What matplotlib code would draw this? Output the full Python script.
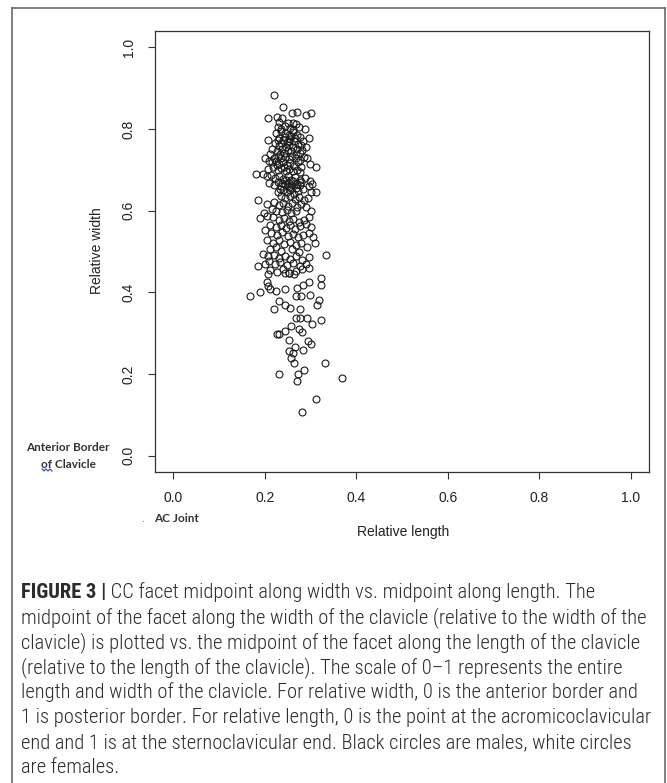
import matplotlib
matplotlib.use("Agg")
import matplotlib.pyplot as plt
from matplotlib import font_manager
from matplotlib.font_manager import FontProperties
from matplotlib.lines import Line2D

# relative length (x) / relative width (y) of the CC facet midpoint
rel_length = [
    0.220, 0.240, 0.260, 0.271, 0.290, 0.302, 0.206, 0.226, 0.238, 0.232,
    0.250, 0.262, 0.268, 0.289, 0.244, 0.255, 0.228, 0.274, 0.236, 0.262,
    0.206, 0.296, 0.225, 0.235, 0.245, 0.252, 0.262, 0.270, 0.278, 0.284,
    0.232, 0.240, 0.248, 0.256, 0.264, 0.272, 0.280, 0.222, 0.230, 0.238,
    0.246, 0.254, 0.262, 0.270, 0.215, 0.226, 0.242, 0.258, 0.276, 0.290,
    0.236, 0.244, 0.252, 0.258, 0.266, 0.228, 0.250, 0.234, 0.268, 0.282,
    0.201, 0.212, 0.220, 0.228, 0.236, 0.244, 0.252, 0.260, 0.268, 0.285,
    0.292, 0.216, 0.224, 0.232, 0.240, 0.248, 0.256, 0.264, 0.272, 0.280,
    0.313, 0.180, 0.208, 0.218, 0.228, 0.236, 0.246, 0.254, 0.262, 0.270,
    0.278, 0.210, 0.298, 0.226, 0.276, 0.242,
    0.196, 0.205, 0.214, 0.222, 0.232, 0.240, 0.250, 0.258, 0.266, 0.276,
    0.288, 0.298, 0.210, 0.220, 0.228, 0.236, 0.244, 0.252, 0.260, 0.268,
    0.276, 0.284, 0.296, 0.304, 0.240, 0.248, 0.256, 0.264, 0.272, 0.228,
    0.313, 0.300, 0.246, 0.254, 0.262, 0.238, 0.270, 0.280, 0.258, 0.234,
    0.235, 0.245, 0.255, 0.265, 0.275, 0.285, 0.295, 0.186, 0.205, 0.220,
    0.230, 0.240, 0.250, 0.260, 0.270, 0.280, 0.290, 0.199, 0.190, 0.215,
    0.225, 0.238, 0.248, 0.258, 0.268, 0.300,
    0.205, 0.218, 0.230, 0.242, 0.252, 0.262, 0.274, 0.286, 0.296, 0.212,
    0.224, 0.236, 0.246, 0.256, 0.266, 0.278, 0.290, 0.302, 0.200,
    0.214, 0.226, 0.238, 0.250, 0.262, 0.272, 0.284, 0.296, 0.306, 0.205,
    0.218, 0.230, 0.242, 0.256, 0.268, 0.280, 0.292, 0.310, 0.212, 0.224,
    0.236, 0.260, 0.274, 0.333,
    0.196, 0.206, 0.220, 0.232, 0.244, 0.256, 0.268, 0.282, 0.296, 0.186,
    0.200, 0.210, 0.222, 0.234, 0.248, 0.262, 0.276, 0.290, 0.212, 0.226,
    0.240, 0.254, 0.268, 0.282, 0.296,
    0.205, 0.206, 0.212, 0.225, 0.244, 0.271, 0.284, 0.296, 0.322, 0.323,
    0.207, 0.245, 0.254, 0.264, 0.168, 0.189, 0.269, 0.280, 0.298, 0.220,
    0.231, 0.245, 0.255, 0.278, 0.314, 0.319, 0.257, 0.268, 0.278, 0.292,
    0.304, 0.324, 0.227, 0.244, 0.275, 0.282, 0.252, 0.294, 0.300, 0.254,
    0.262, 0.265, 0.284, 0.263, 0.331, 0.232, 0.271, 0.272, 0.286, 0.368,
    0.312, 0.282, 0.258, 0.230,
]
rel_width = [
    0.884, 0.853, 0.840, 0.842, 0.835, 0.840, 0.828, 0.830, 0.828, 0.818,
    0.815, 0.815, 0.812, 0.800, 0.808, 0.802, 0.805, 0.805, 0.800, 0.798,
    0.774, 0.777, 0.790, 0.795, 0.790, 0.785, 0.792, 0.786, 0.780, 0.770,
    0.778, 0.772, 0.768, 0.775, 0.770, 0.764, 0.760, 0.765, 0.758, 0.752,
    0.756, 0.760, 0.755, 0.750, 0.752, 0.745, 0.742, 0.745, 0.742, 0.755,
    0.765, 0.780, 0.770, 0.784, 0.778, 0.772, 0.748, 0.740, 0.740, 0.748,
    0.730, 0.738, 0.730, 0.735, 0.728, 0.732, 0.726, 0.734, 0.728, 0.732,
    0.728, 0.718, 0.722, 0.714, 0.720, 0.712, 0.716, 0.710, 0.718, 0.706,
    0.708, 0.690, 0.702, 0.706, 0.700, 0.704, 0.698, 0.702, 0.696, 0.700,
    0.694, 0.722, 0.715, 0.712, 0.724, 0.708,
    0.690, 0.684, 0.688, 0.680, 0.686, 0.678, 0.684, 0.676, 0.682, 0.676,
    0.680, 0.672, 0.668, 0.662, 0.670, 0.660, 0.666, 0.658, 0.664, 0.656,
    0.662, 0.654, 0.660, 0.666, 0.650, 0.645, 0.650, 0.642, 0.648, 0.646,
    0.645, 0.645, 0.674, 0.668, 0.672, 0.668, 0.666, 0.670, 0.656, 0.654,
    0.636, 0.630, 0.636, 0.628, 0.634, 0.626, 0.632, 0.627, 0.617, 0.622,
    0.615, 0.620, 0.612, 0.618, 0.610, 0.616, 0.608, 0.595, 0.582, 0.604,
    0.600, 0.596, 0.602, 0.594, 0.600, 0.598,
    0.588, 0.584, 0.578, 0.582, 0.574, 0.580, 0.572, 0.578, 0.585, 0.565,
    0.560, 0.566, 0.558, 0.564, 0.556, 0.562, 0.568, 0.560, 0.552,
    0.545, 0.540, 0.548, 0.538, 0.544, 0.535, 0.540, 0.546, 0.535, 0.528,
    0.522, 0.528, 0.518, 0.524, 0.515, 0.520, 0.512, 0.520, 0.505, 0.510,
    0.502, 0.505, 0.500, 0.492,
    0.495, 0.488, 0.492, 0.485, 0.490, 0.482, 0.488, 0.480, 0.486, 0.464,
    0.470, 0.476, 0.470, 0.474, 0.466, 0.472, 0.464, 0.470, 0.455, 0.450,
    0.456, 0.448, 0.452, 0.458, 0.460,
    0.426, 0.416, 0.409, 0.403, 0.407, 0.411, 0.419, 0.426, 0.436, 0.418,
    0.446, 0.447, 0.447, 0.444, 0.392, 0.400, 0.390, 0.390, 0.393, 0.360,
    0.378, 0.369, 0.361, 0.360, 0.370, 0.381, 0.317, 0.337, 0.337, 0.338,
    0.322, 0.332, 0.298, 0.305, 0.309, 0.302, 0.283, 0.281, 0.273, 0.256,
    0.251, 0.266, 0.260, 0.227, 0.228, 0.201, 0.182, 0.199, 0.209, 0.191,
    0.140, 0.107, 0.240, 0.298,
]
assert len(rel_length) == len(rel_width)

tick_vals = [0.0, 0.2, 0.4, 0.6, 0.8, 1.0]
tick_labels = ["0.0", "0.2", "0.4", "0.6", "0.8", "1.0"]

caption_head = "FIGURE 3 |"
caption_lines = [
    " CC facet midpoint along width vs. midpoint along length. The",
    "midpoint of the facet along the width of the clavicle (relative to the width of the",
    "clavicle) is plotted vs. the midpoint of the facet along the length of the clavicle",
    "(relative to the length of the clavicle). The scale of 0\u20131 represents the entire",
    "length and width of the clavicle. For relative width, 0 is the anterior border and",
    "1 is posterior border. For relative length, 0 is the point at the acromicoclavicular",
    "end and 1 is at the sternoclavicular end. Black circles are males, white circles",
    "are females.",
]

W, H = 667, 783
fig = plt.figure(figsize=(W / 100, H / 100), dpi=100)


def fx(px):
    return px / W


def fy(py):
    return 1 - py / H


def weight_num(w):
    if isinstance(w, int):
        return w
    return font_manager.weight_dict.get(w, 400)


def narrow_font(want_weight):
    # look for an installed condensed / narrow face, closest to the wanted weight
    order = ["Liberation Sans Narrow", "Roboto Condensed", "Open Sans", "Noto Sans", "DejaVu Sans"]
    for fam in order:
        cands = []
        for f in font_manager.fontManager.ttflist:
            if f.style != "normal":
                continue
            tag = (f.name + " " + f.fname).lower()
            narrow = ("condensed" in str(f.stretch)) or ("narrow" in tag) or ("condensed" in tag)
            if f.name.startswith(fam) and narrow:
                cands.append(f)
        if cands:
            best = min(cands, key=lambda f: abs(weight_num(f.weight) - want_weight))
            return FontProperties(fname=best.fname)
    return FontProperties(family="Roboto", weight=want_weight)


cap_regular = narrow_font(330)
cap_bold = narrow_font(700)
axis_font = "Liberation Sans"
note_font = "Lato"

# outer frame (open at the bottom)
frame_col = "#6a6a6a"
fig.add_artist(Line2D([fx(12), fx(12)], [fy(8), 0], transform=fig.transFigure, color=frame_col, lw=1.2))
fig.add_artist(Line2D([fx(12), fx(665)], [fy(8), fy(8)], transform=fig.transFigure, color=frame_col, lw=1.2))
fig.add_artist(Line2D([fx(665), fx(665)], [fy(8), 0], transform=fig.transFigure, color=frame_col, lw=1.2))

# scatter
ax = fig.add_axes([fx(155), fy(472), (649 - 155) / W, (472 - 31) / H])
ax.plot(rel_length, rel_width, "o", ls="none", mfc="none", mec="#1a1a1a", ms=5, mew=0.8)
ax.set_xlim(-0.04, 1.04)
ax.set_ylim(-0.04, 1.04)
ax.set_xticks(tick_vals)
ax.set_xticklabels(tick_labels)
ax.set_yticks(tick_vals)
ax.set_yticklabels(tick_labels, rotation=90, va="center")
ax.tick_params(length=5, width=0.8, color="#333333", pad=9, labelsize=10, labelcolor="#222222")
for lab in ax.get_xticklabels() + ax.get_yticklabels():
    lab.set_fontfamily(axis_font)
for sp in ax.spines.values():
    sp.set_color("#333333")
    sp.set_linewidth(0.9)

fig.text(fx(403), fy(532), "Relative length", ha="center", va="center",
         family=axis_font, size=10, color="#222222")
fig.text(fx(97), fy(251), "Relative width", ha="center", va="center", rotation=90,
         family=axis_font, size=10, color="#222222")

# hand-written notes
note_col = "#333333"
fig.text(fx(68), fy(447), "Anterior Border", ha="center", va="center",
         family=note_font, weight="bold", size=8.5, color=note_col)
fig.text(fx(68), fy(464), "of Clavicle", ha="center", va="center",
         family=note_font, weight="bold", size=8.5, color=note_col)
fig.add_artist(Line2D([fx(p) for p in (42, 44, 46, 48, 50, 52)],
                      [fy(p) for p in (469, 471, 469, 471, 469, 471)],
                      transform=fig.transFigure, color="#3a4fd0", lw=0.9))
fig.text(fx(176), fy(518), "AC Joint", ha="center", va="center",
         family=note_font, weight="bold", size=8.5, color=note_col)
fig.text(fx(143), fy(519), ".", ha="center", va="center",
         family=note_font, size=8, color="#888888")

# caption, size fitted so the widest line spans the box
cap_col = "#2b2b2b"
renderer = fig.canvas.get_renderer()
probe = fig.text(0, 0, caption_lines[5], fontproperties=cap_regular, size=12)
wpx = probe.get_window_extent(renderer).width
probe.remove()
cap_size = 12 * 627 / wpx

x0, y0, step = 21, 592, 25.1
head = fig.text(fx(x0), fy(y0), caption_head, ha="left", va="center",
                fontproperties=cap_bold, size=cap_size, color=cap_col)
hw = head.get_window_extent(renderer).width
for i, line in enumerate(caption_lines):
    xx = x0 + hw if i == 0 else x0
    fig.text(fx(xx), fy(y0 + i * step), line, ha="left", va="center",
             fontproperties=cap_regular, size=cap_size, color=cap_col)

fig.savefig("out.png", dpi=100)
